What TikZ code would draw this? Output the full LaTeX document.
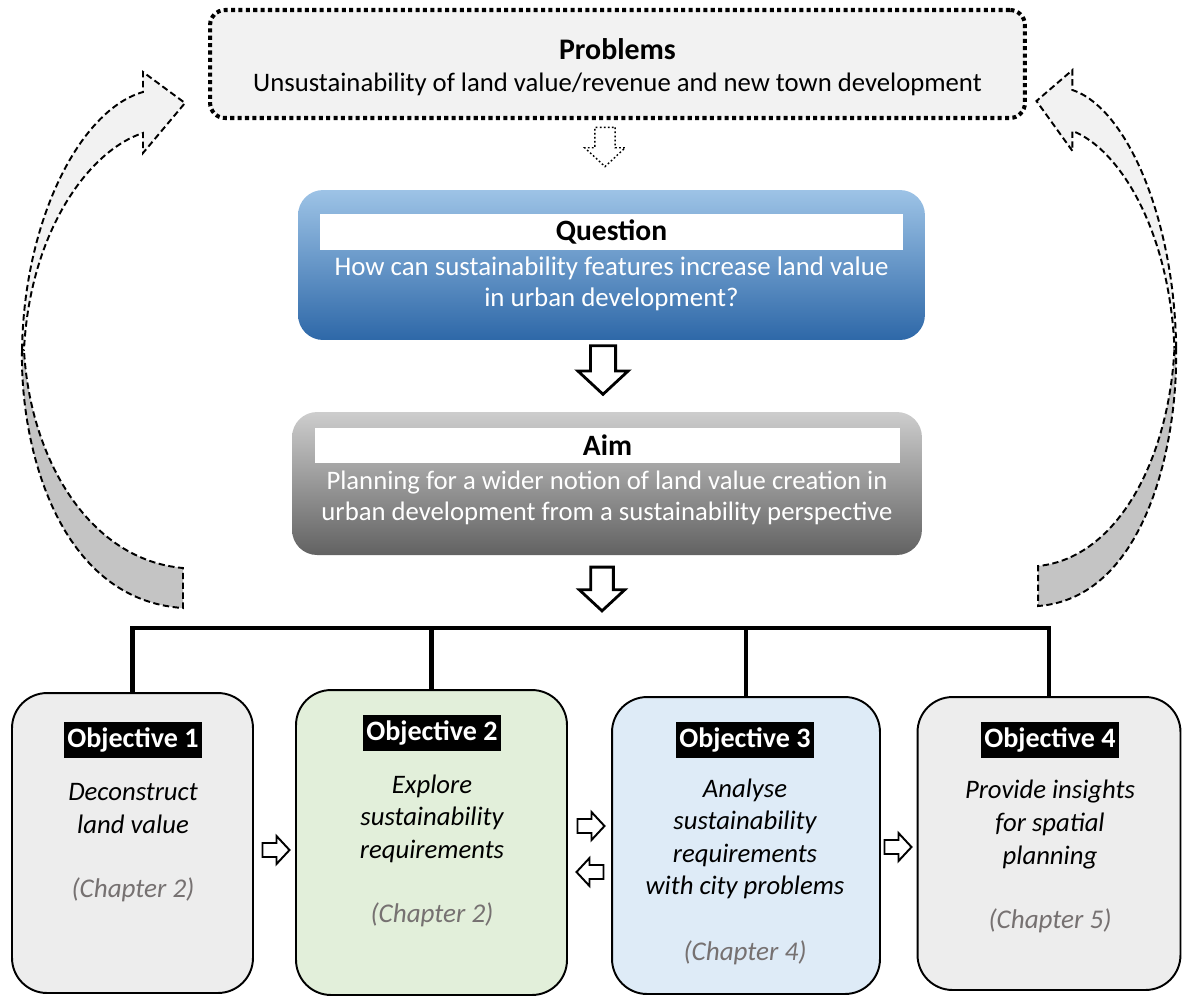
\documentclass[tikz,border=0pt]{standalone}
\usepackage{fontspec}
\setmainfont{Carlito}
\definecolor{qtop}{RGB}{157,195,230}
\definecolor{qbot}{RGB}{46,104,168}
\definecolor{atop}{RGB}{205,205,205}
\definecolor{abot}{RGB}{98,98,98}
\definecolor{pgray}{RGB}{242,242,242}
\definecolor{ogray}{RGB}{237,237,237}
\definecolor{ogreen}{RGB}{226,239,218}
\definecolor{oblue}{RGB}{222,235,247}
\definecolor{chapgray}{RGB}{118,113,113}
\definecolor{bandlight}{RGB}{242,242,242}
\definecolor{banddark}{RGB}{196,196,196}
\tikzset{
	fatarrow/.pic={\draw[pic actions] (-13.5,-7) -- (0.5,-7) -- (0.5,-14) -- (13.5,0) -- (0.5,14) -- (0.5,7) -- (-13.5,7) -- cycle;},
	loopback/.pic={
		\draw[pic actions, fill=bandlight] (22,350) .. controls (24,220) and (80,110) .. (143,92) -- (143,72) -- (185,103) -- (143,153) -- (143,133) .. controls (90,150) and (30,230) .. (24,350) -- cycle;
		\draw[pic actions, fill=banddark] (22,350) .. controls (20,450) and (60,600) .. (183,608) -- (183,568) .. controls (90,560) and (30,460) .. (24,350) -- cycle;
	},
	bandline/.style={draw, line width=1.1pt, dash pattern=on 3.6pt off 2pt},
	bigarrow/.style={draw, fill=white, line width=1.6pt, scale=1.8},
	smallarrow/.style={draw, fill=white, line width=1.1pt},
	headstrip/.style={fill=white, inner sep=0pt, font=\fontsize{16.8}{19}\selectfont\bfseries},
	boxtext/.style={align=center, text=white, font=\fontsize{15.3}{17.5}\selectfont},
	objbox/.style={draw, line width=1.1pt, rounded corners=0.7cm, inner sep=0pt},
	objtitle/.style={fill=black, text=white, inner xsep=2pt, inner ysep=3.5pt, font=\fontsize{16}{19}\selectfont\bfseries},
	objtext/.style={align=center, font=\fontsize{15.2}{18.5}\selectfont\itshape},
	chapter/.style={text=chapgray, font=\fontsize{15.4}{18.5}\selectfont\itshape},
	bracket/.style={line width=2.8pt}
}

\begin{document}
\begin{tikzpicture}[x=0.02cm, y=-0.02cm]
	%%%%% START %%%%%
	\useasboundingbox (0,0) rectangle (1183,995);
	
	% problems
	\node[fill=pgray, draw, line width=2.3pt, dash pattern=on 2.3pt off 1.9pt, rounded corners=0.3cm,
		minimum width=16.3cm, minimum height=2.16cm] (problems) at (617.5,64) {};
	\node[font=\fontsize{17}{20}\selectfont\bfseries] (ptitle) at (617.5,49) {Problems};
	\node[font=\fontsize{15.2}{18}\selectfont] (ptext) at (617.5,84) {Unsustainability of land value/revenue and new town development};
	\pic[draw, fill=white, line width=0.8pt, dash pattern=on 1pt off 1.3pt, scale=1.45, rotate=-90] at (605,147) {fatarrow};
	
	% question
	\node[top color=qtop, bottom color=qbot, rounded corners=0.5cm, minimum width=12.54cm, minimum height=3cm] (question) at (611.5,265) {};
	\node[headstrip, minimum width=11.66cm, minimum height=0.72cm] (qhead) at (611.5,232) {Question};
	\node[boxtext] (qtext) at (611.5,284) {How can sustainability features increase land value\\in urban development?};
	\pic[bigarrow, rotate=-90] at (603,370) {fatarrow};
	
	% aim
	\node[top color=atop, bottom color=abot, rounded corners=0.5cm, minimum width=12.6cm, minimum height=2.86cm] (aim) at (607,483.5) {};
	\node[headstrip, minimum width=11.7cm, minimum height=0.7cm] (ahead) at (607.5,445.5) {Aim};
	\node[boxtext, font=\fontsize{15.2}{17.8}\selectfont] (atext) at (607,498) {Planning for a wider notion of land value creation in\\urban development from a sustainability perspective};
	\pic[bigarrow, scale=0.9, rotate=-90] at (602,589) {fatarrow};
	
	% loops back to problems
	\pic[bandline] at (0,0) {loopback};
	\pic[bandline, xscale=-0.857] at (1195,-2) {loopback};
	
	% objectives
	\node[objbox, fill=ogray, minimum width=4.82cm, minimum height=6cm] (o1) at (132.5,843) {};
	\node[objbox, fill=ogreen, minimum width=5.42cm, minimum height=6.1cm] (o2) at (431.5,842.5) {};
	\node[objbox, fill=oblue, minimum width=5.36cm, minimum height=5.94cm] (o3) at (746,845.5) {};
	\node[objbox, fill=ogray, minimum width=5.26cm, minimum height=5.86cm] (o4) at (1049,843.5) {};
	
	\coordinate (bar) at (0,628);
	\draw[bracket] (o1.north) -- (o1.north |- bar) -- (o4.north |- bar) -- (o4.north);
	\draw[bracket] (o2.north) -- (o2.north |- bar);
	\draw[bracket] (o3.north) -- (o3.north |- bar);
	
	\node[objtitle] (t1) at (133,740) {Objective 1};
	\node[objtext] (d1) at (133,808.5) {Deconstruct\\land value};
	\node[chapter] (c1) at (133,890) {(Chapter 2)};
	
	\node[objtitle] (t2) at (432,733) {Objective 2};
	\node[objtext] (d2) at (432,818.5) {Explore\\sustainability\\requirements};
	\node[chapter] (c2) at (432,915) {(Chapter 2)};
	
	\node[objtitle] (t3) at (745,740) {Objective 3};
	\node[objtext] (d3) at (745,839) {Analyse\\sustainability\\requirements\\with city problems};
	\node[chapter] (c3) at (745,953) {(Chapter 4)};
	
	\node[objtitle] (t4) at (1050,740) {Objective 4};
	\node[objtext] (d4) at (1050,824.5) {Provide insights\\for spatial\\planning};
	\node[chapter] (c4) at (1050,921) {(Chapter 5)};
	
	\pic[smallarrow] at (276,850) {fatarrow};
	\pic[smallarrow] at (591,826) {fatarrow};
	\pic[smallarrow, rotate=180] at (590,872) {fatarrow};
	\pic[smallarrow] at (898,847) {fatarrow};
	
	%%%%% END %%%%%
\end{tikzpicture}
\end{document}
